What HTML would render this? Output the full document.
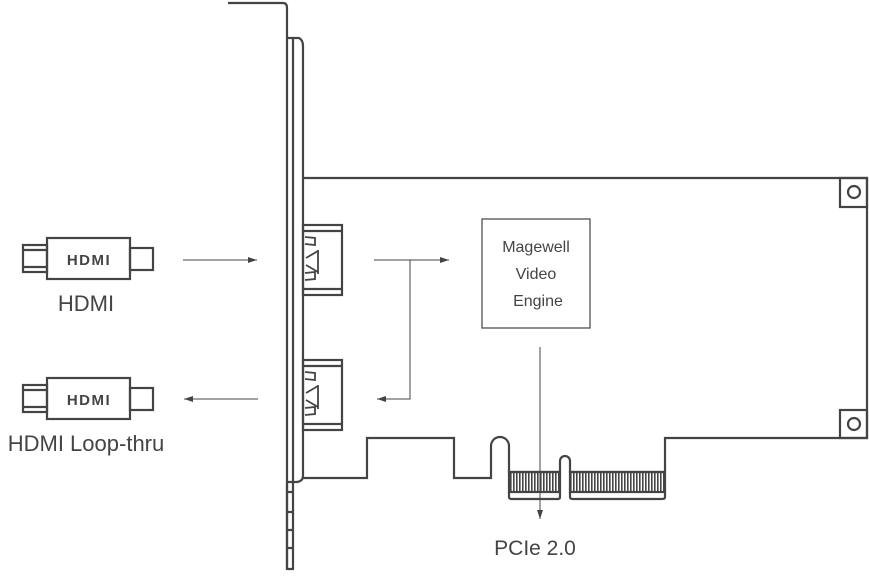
<!DOCTYPE html>
<html><head><style>body{margin:0;background:#fff}</style></head><body>
<svg width="869" height="571" viewBox="0 0 869 571" xmlns="http://www.w3.org/2000/svg" font-family="'Liberation Sans',sans-serif">
<defs><marker id="a" markerWidth="10" markerHeight="8" refX="9" refY="4" orient="auto" markerUnits="userSpaceOnUse"><path d="M0,1 L9,4 L0,7z" fill="#444"/></marker>
<pattern id="h" width="3" height="20" patternUnits="userSpaceOnUse"><rect x="0" y="0" width="1.6" height="20" fill="#444"/></pattern></defs>
<rect x="509" y="472" width="51" height="20" fill="url(#h)"/><rect x="570" y="472" width="95" height="20" fill="url(#h)"/>
<g fill="none" stroke="#444" stroke-width="2.2">
<path d="M228,3 H283 Q287,3 287,8 V570"/>
<path d="M287,38 H299 Q303,40 303,46 V476 Q303,481 297,482 H287"/>
<path d="M293,38 V482"/>
<path d="M287,482 V570 M293,482 V570 M287,492 H293 M287,512 H293 M287,530 H293 M287,548 H293 M287,569 H293"/>
<path d="M303,178 H867 V438 H665 V472 M303,478 H367 V438 H454 V478 H491 V446 A9,9 0 0 1 509,446 V472 M509,472 H560 V461 A5,5 0 0 1 570,461 V472 H665"/>
<rect x="509" y="472" width="51" height="20"/><rect x="570" y="472" width="95" height="20"/>
<path d="M509,492 V497 Q509,499 512,499 H558 Q560,499 560,497 V492 M570,492 V497 Q570,499 573,499 H662 Q665,499 665,497 V492"/>
<rect x="840" y="178" width="27" height="29"/><rect x="840" y="410" width="27" height="28"/>
<circle cx="854" cy="192" r="6"/><circle cx="854" cy="424" r="6"/>
<rect x="303" y="225" width="39" height="70"/><path d="M303,231 H342 M303,289 H342"/>
<rect x="303" y="360" width="39" height="70"/><path d="M303,366 H342 M303,424 H342"/>
<g stroke-width="1.8">
<path d="M305,237 L315,238 V245 L305,244 M305,280 L315,279 V272 L305,273 M306,258 L318,251 M306,265 L318,272 M318,250 V274"/>
<path d="M305,372 L315,373 V380 L305,379 M305,415 L315,414 V407 L305,408 M306,393 L318,386 M306,400 L318,407 M318,385 V409"/>
</g>
<rect x="482" y="219" width="108" height="109" stroke-width="1.2"/>
<rect x="23" y="245" width="24" height="27"/><rect x="47" y="238" width="83" height="41"/><rect x="130" y="248" width="23" height="22"/><path d="M23,250 H47 M23,267 H47"/>
<rect x="23" y="385" width="24" height="27"/><rect x="47" y="378" width="83" height="41"/><rect x="130" y="388" width="23" height="22"/><path d="M23,390 H47 M23,407 H47"/>
</g>
<g stroke="#444" stroke-width="1" fill="none">
<path d="M183,260 H257" marker-end="url(#a)"/>
<path d="M258,399 H184" marker-end="url(#a)"/>
<path d="M374,260 H449" marker-end="url(#a)"/>
<path d="M410,260 V399 H377" marker-end="url(#a)"/>
<path d="M540,347 V519" marker-end="url(#a)"/>
</g>
<g fill="#444" font-weight="bold" font-size="15" text-anchor="middle" letter-spacing="1.5">
<text x="89" y="265">HDMI</text><text x="89" y="405">HDMI</text>
</g>
<g fill="#444" text-anchor="middle">
<text x="536" y="252" font-size="16">Magewell</text>
<text x="536" y="279" font-size="16">Video</text>
<text x="538" y="306" font-size="16">Engine</text>
<text x="86" y="311" font-size="22">HDMI</text>
<text x="86" y="451" font-size="22">HDMI Loop-thru</text>
<text x="535" y="555" font-size="21">PCIe 2.0</text>
</g>
</svg>
</body></html>
